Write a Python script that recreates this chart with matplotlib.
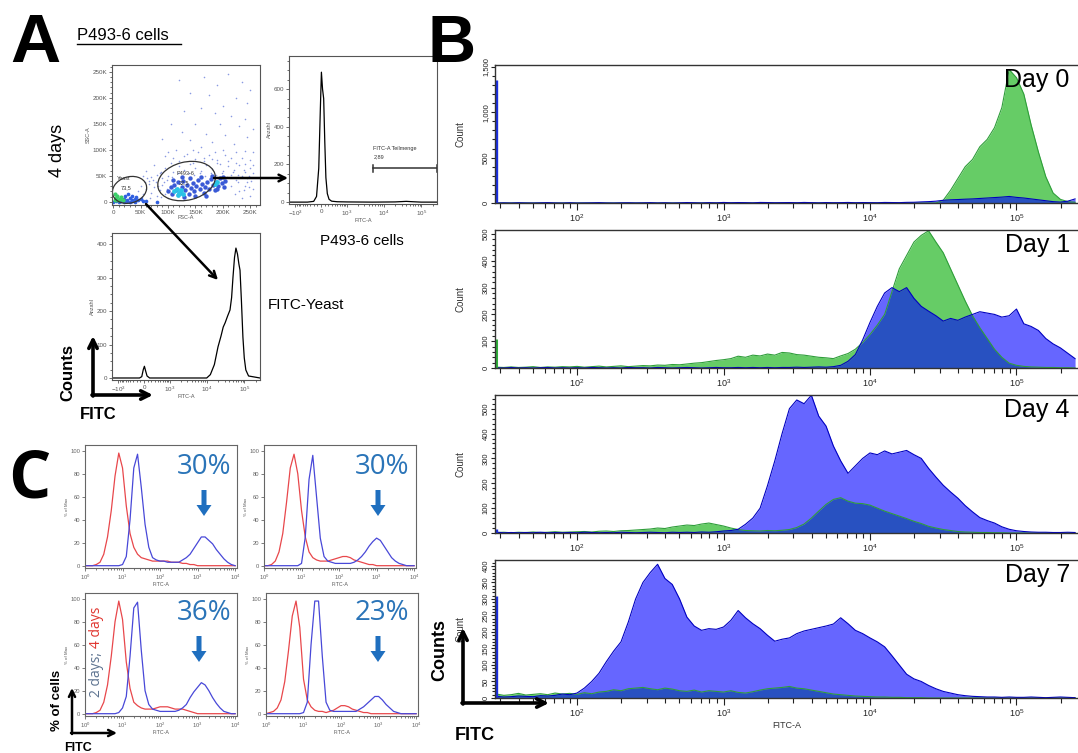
import numpy as np
import matplotlib
matplotlib.use("Agg")
import matplotlib.pyplot as plt
from matplotlib.patches import Ellipse, FancyArrow
from matplotlib.ticker import FixedLocator, MultipleLocator, NullFormatter

plt.rcParams['font.family'] = ['Liberation Sans', 'DejaVu Sans']
plt.rcParams['mathtext.fontset'] = 'custom'
plt.rcParams['mathtext.rm'] = 'Liberation Sans'
plt.rcParams['mathtext.it'] = 'Liberation Sans:italic'

# ---------------- panel A data ----------------
# scatter FSC-A / SSC-A, in K
cloud_fsc = [120, 165, 190, 210, 235, 250, 140, 175, 225, 245, 200, 160, 130, 185, 215, 240, 105, 150, 195, 230,
             255, 125, 170, 205, 245, 90, 140, 180, 220, 160, 115, 200, 240, 135, 175, 95, 215, 150, 250, 120,
             100, 110, 130, 145, 155, 165, 185, 190, 205, 225, 235, 255, 145, 165, 180, 195, 210, 225, 240, 255,
             60, 75, 85, 95, 105, 110, 120, 130, 140, 150, 160, 170, 180, 190, 200, 210, 220, 230, 240, 250,
             70, 80, 90, 100, 235, 245, 255, 65, 225, 215, 55, 62, 78, 88, 98, 108, 118, 128, 138, 148,
             158, 168, 178, 188, 198, 208, 218, 228, 238, 248, 45, 50, 55, 60, 65, 70, 75, 80, 85, 90,
             95, 100, 230, 240, 250, 245, 235, 255, 52, 58, 68, 72, 82, 88, 92, 98, 215, 222, 228, 238, 248, 252]
cloud_ssc = [235, 240, 225, 245, 230, 215, 210, 205, 200, 190, 185, 180, 175, 170, 165, 160, 150, 150, 150, 145,
             140, 135, 130, 128, 125, 120, 118, 115, 112, 105, 100, 100, 98, 92, 90, 88, 85, 82, 80, 78,
             95, 85, 88, 100, 95, 85, 95, 80, 90, 95, 85, 95, 75, 78, 82, 72, 78, 75, 72, 70,
             60, 70, 55, 65, 75, 58, 68, 62, 72, 66, 60, 70, 64, 74, 60, 68, 62, 70, 58, 66,
             48, 52, 45, 50, 50, 45, 55, 40, 42, 52, 50, 45, 38, 58, 42, 48, 55, 50, 56, 52,
             55, 50, 56, 52, 56, 48, 58, 52, 62, 50, 20, 30, 15, 25, 35, 18, 28, 12, 22, 32,
             16, 8, 20, 30, 12, 38, 8, 25, 10, 38, 8, 42, 30, 10, 38, 25, 30, 15, 38, 22, 28, 40]
dense_fsc = [100, 105, 108, 112, 115, 118, 122, 125, 128, 132, 135, 138, 142, 145, 148, 152, 155, 158, 162, 165,
             168, 172, 175, 178, 182, 185, 188, 192, 195, 198, 202, 205, 110, 125, 140, 160, 180, 200, 190, 170,
             150, 130]
dense_ssc = [20, 28, 15, 32, 22, 38, 18, 28, 40, 22, 32, 15, 26, 36, 20, 30, 42, 24, 34, 18,
             28, 38, 25, 44, 32, 22, 38, 30, 45, 36, 28, 40, 42, 48, 46, 48, 50, 48, 25, 12,
             12, 10]
hot_fsc = [112, 116, 120, 124, 118, 128, 185, 190]
hot_ssc = [20, 24, 18, 22, 14, 16, 35, 38]
yeast_fsc = [20, 25, 30, 35, 40, 45, 22, 28, 35, 42, 50, 55, 0, 5, 10, 15, 20, 25, 30, 35, 40, 60, 80]
yeast_ssc = [6, 3, 8, 4, 6, 3, 12, 15, 12, 10, 5, 2, 0, 1, 0, 1, 0, 1, 0, 1, 0, 1, 0]
yeastg_fsc = [3, 6, 9, 12, 15, 18, 8, 4]
yeastg_ssc = [4, 8, 3, 6, 10, 4, 12, 15]

# FITC histogram of P493-6 gate
p493_fitc = [-1500, -400, -200, -120, -60, -20, 10, 40, 70, 100, 130, 170, 220, 300, 500, 1000, 5000,
             20000, 40000, 60000, 100000, 262000]
p493_count = [0, 0, 4, 30, 180, 480, 690, 600, 550, 320, 130, 45, 15, 5, 2, 1, 0, 1, 4, 2, 0, 0]
gate_lo, gate_hi, gate_y = 5300, 262000, 180

# FITC histogram of yeast gate
yeast_fitc = [-1500, -300, -120, -60, -20, 10, 40, 80, 150, 400, 1000, 5000, 10000, 12500, 16000, 20000,
              24000, 27500, 31000, 36000, 41700, 46000, 50000, 55000, 60000, 66000, 72000, 77000, 84000,
              92000, 100000, 110000, 130000, 262000]
yeast_count = [0, 0, 0, 4, 25, 35, 22, 6, 0, 0, 0, 0, 0, 10, 40, 93, 125, 152, 165, 185, 203, 240, 300,
               360, 388, 370, 340, 322, 230, 122, 60, 24, 6, 0]

# ---------------- panel B data ----------------
b_logx = np.round(np.arange(1.45, 5.41, 0.05), 2)
b_days = ['Day 0', 'Day 1', 'Day 4', 'Day 7']

day0_green = [0] * 60 + [0, 30, 140, 270, 400, 480, 620, 700, 830, 1050,
                         1470, 1380, 1200, 860, 560, 290, 110, 40, 15, 8]
day0_blue = [0, 2, 0, 3, 1, 0, 2, 4, 1, 0, 3, 0, 1, 2, 4, 1, 0, 2, 3, 1,
             2, 4, 1, 3, 0, 2, 5, 3, 1, 4, 2, 6, 3, 5, 4, 2, 6, 5, 3, 4,
             5, 3, 6, 4, 2, 5, 3, 4, 6, 3, 5, 4, 3, 6, 5, 4, 7, 8, 12, 15,
             20, 30, 35, 38, 42, 45, 50, 55, 60, 65, 72, 62, 55, 45, 35, 25, 15, 10, 20, 45]
day1_green = [3, 2, 4, 2, 3, 5, 2, 4, 3, 5, 4, 6, 3, 5, 7, 4, 6, 8, 5, 7,
              9, 8, 11, 10, 13, 12, 15, 18, 20, 24, 28, 31, 35, 44, 40, 48, 45, 52, 48, 58,
              56, 50, 48, 44, 40, 38, 35, 45, 54, 70, 95, 125, 160, 200, 285, 370, 420, 470, 495, 512,
              470, 430, 370, 310, 250, 195, 150, 110, 70, 40, 18, 10, 6, 4, 3, 2, 2, 1, 1, 0]
day1_blue = [1, 0, 2, 0, 1, 0, 1, 2, 0, 1, 0, 1, 0, 2, 1, 0, 1, 0, 2, 1,
             1, 0, 2, 1, 0, 1, 2, 1, 0, 1, 2, 1, 1, 2, 1, 2, 1, 2, 1, 2,
             2, 3, 2, 3, 4, 3, 5, 10, 25, 50, 105, 170, 230, 280, 300, 285, 300, 260, 230, 212,
             195, 175, 185, 178, 190, 200, 210, 205, 200, 190, 195, 220, 165, 155, 140, 110, 90, 75, 55, 35]
day4_green = [2, 3, 1, 3, 2, 4, 2, 3, 5, 3, 4, 5, 6, 4, 7, 8, 6, 9, 10, 12,
              14, 16, 20, 18, 24, 28, 32, 30, 36, 40, 34, 28, 20, 14, 10, 9, 8, 10, 9, 11,
              14, 22, 36, 60, 88, 115, 135, 142, 128, 120, 118, 112, 100, 88, 78, 68, 58, 47, 38, 27,
              20, 14, 10, 6, 4, 3, 2, 2, 1, 1] + [0] * 10
day4_blue = [3, 1, 2, 1, 2, 1, 3, 1, 2, 1, 2, 1, 3, 2, 1, 2, 1, 3, 2, 1,
             2, 3, 2, 1, 3, 2, 3, 2, 4, 3, 5, 8, 10, 15, 35, 60, 100, 190, 290, 400,
             500, 535, 520, 554, 470, 430, 350, 290, 240, 270, 300, 322, 315, 330, 318, 325, 332, 315, 300, 260,
             225, 192, 165, 140, 110, 85, 62, 50, 40, 25, 15, 9, 6, 4, 3, 3, 2, 2, 3, 2]
day7_green = [12, 8, 10, 14, 9, 11, 13, 10, 15, 12, 14, 11, 16, 13, 18, 20, 25, 22, 28, 30,
              32, 28, 25, 30, 27, 22, 20, 24, 18, 22, 20, 18, 22, 17, 15, 19, 24, 28, 30, 32,
              35, 30, 28, 24, 20, 16, 12, 10, 8, 6, 5, 4, 3, 3, 2, 2, 1, 1, 1, 0] + [0] * 20
day7_blue = [5, 3, 4, 6, 5, 4, 7, 6, 8, 12, 10, 15, 30, 50, 75, 110, 142, 170, 230, 300,
             350, 380, 405, 362, 344, 300, 245, 218, 205, 210, 208, 215, 235, 265, 243, 225, 210, 190, 172, 178,
             182, 195, 203, 208, 213, 218, 224, 243, 225, 205, 195, 182, 170, 155, 128, 100, 72, 58, 50, 38,
             28, 20, 15, 10, 7, 5, 4, 3, 3, 2, 3, 2, 2, 3, 2, 1, 2, 3, 2, 1]
b_green = [day0_green, day1_green, day4_green, day7_green]
b_blue = [day0_blue, day1_blue, day4_blue, day7_blue]
b_edge_green = [0, 110, 8, 0]      # pile-up in the first channel
b_edge_blue = [1350, 0, 15, 310]
b_ymax = [1520, 515, 555, 418]
b_yticks = [[0, 500, 1000, 1500], [0, 100, 200, 300, 400, 500], [0, 100, 200, 300, 400, 500],
            [0, 50, 100, 150, 200, 250, 300, 350, 400]]
b_ylabels = [['0', '500', '1,000', '1,500'], None, None, None]
b_yminor = [100, 20, 20, 10]

# ---------------- panel C data ----------------
c_logx = np.round(np.arange(0, 4.01, 0.1), 1)
c_pct = ['30%', '30%', '36%', '23%']
c_red = [
    [0, 0, 0, 1, 3, 10, 25, 48, 78, 98, 85, 52, 28, 16, 10, 7, 6, 5, 4, 4, 4, 4, 4, 3, 3, 3, 2, 2, 1, 1, 0, 0, 0, 0, 0, 0, 0, 0, 0, 0, 0],
    [0, 0, 1, 4, 12, 28, 55, 85, 97, 80, 48, 25, 12, 7, 5, 4, 4, 4, 5, 6, 7, 8, 8, 7, 5, 4, 3, 2, 1, 1, 0, 0, 0, 0, 0, 0, 0, 0, 0, 0, 0],
    [0, 0, 0, 1, 3, 10, 25, 50, 80, 98, 82, 45, 22, 10, 7, 5, 4, 4, 4, 5, 6, 6, 6, 5, 4, 4, 4, 3, 2, 1, 0, 0, 0, 0, 0, 0, 0, 0, 0, 0, 0],
    [0, 1, 2, 5, 12, 28, 55, 85, 98, 75, 30, 12, 6, 3, 2, 2, 1, 2, 3, 5, 7, 7, 6, 4, 3, 2, 1, 1, 0, 0, 0, 0, 0, 0, 0, 0, 0, 0, 0, 0, 0],
]
c_blue = [
    [0, 0, 0, 0, 0, 0, 0, 0, 0, 0, 1, 8, 40, 85, 97, 68, 36, 16, 7, 5, 4, 4, 3, 3, 3, 3, 5, 7, 10, 15, 20, 25, 25, 22, 19, 14, 10, 6, 3, 1, 0],
    [0, 0, 0, 0, 0, 0, 0, 0, 0, 0, 2, 25, 75, 96, 60, 24, 8, 4, 3, 2, 2, 2, 2, 2, 3, 5, 8, 12, 17, 21, 24, 22, 17, 12, 7, 4, 2, 1, 0, 0, 0],
    [0, 0, 0, 0, 0, 0, 0, 0, 0, 1, 5, 15, 50, 92, 97, 55, 20, 8, 4, 3, 2, 2, 2, 2, 2, 3, 5, 8, 14, 19, 23, 27, 25, 20, 14, 9, 5, 2, 1, 0, 0],
    [0, 0, 0, 0, 0, 0, 0, 0, 0, 0, 1, 10, 60, 98, 98, 50, 10, 3, 2, 2, 2, 2, 2, 2, 2, 4, 6, 9, 12, 15, 15, 12, 8, 5, 2, 1, 0, 0, 0, 0, 0],
]

W, H = 1078, 753
fig = plt.figure(figsize=(W / 100, H / 100), dpi=100)

BIEX_C = 430.0
def biex(x):
    return np.arcsinh(np.asarray(x, dtype=float) / BIEX_C)

def biex_inv(y):
    return BIEX_C * np.sinh(np.asarray(y, dtype=float))

def px_axes(l, t, r, b):
    return fig.add_axes([l / W, 1 - b / H, (r - l) / W, (b - t) / H])

def small_frame(ax, col='#555555', size=4.5):
    for s in ax.spines.values():
        s.set_color(col)
        s.set_linewidth(0.8)
    ax.tick_params(which='both', direction='out', colors=col, labelsize=size, width=0.6, pad=1)
    ax.tick_params(which='major', length=2.5)
    ax.tick_params(which='minor', length=1.5)

def biex_ticks(ax):
    ax.set_xscale('function', functions=(biex, biex_inv))
    ax.set_xlim(-1500, 262144)
    ax.xaxis.set_major_locator(FixedLocator([-1000, 0, 1000, 10000, 100000]))
    ax.set_xticklabels(['$-10^3$', '0', '$10^3$', '$10^4$', '$10^5$'])
    mn = [-m * 100 for m in range(1, 10)] + [m * 100 for m in range(1, 10)]
    mn += [m * 10 ** k for k in (3, 4) for m in range(2, 10)] + [200000]
    ax.xaxis.set_minor_locator(FixedLocator(mn))
    ax.xaxis.set_minor_formatter(NullFormatter())

# ---------- A: scatter ----------
ax = px_axes(112, 65, 260, 205)
small_frame(ax)
ax.scatter(cloud_fsc, cloud_ssc, s=1.3, color='#8a9ae2', lw=0)
ax.scatter(dense_fsc, dense_ssc, s=10, color='#3a5ad6', lw=0)
ax.scatter(hot_fsc, hot_ssc, s=12, color='#29c3e6', lw=0)
ax.scatter(yeast_fsc, yeast_ssc, s=7, color='#2f5fe0', lw=0)
ax.scatter(yeastg_fsc, yeastg_ssc, s=9, color='#3ccf6a', lw=0)
ax.add_patch(Ellipse((30, 23), 64, 50, angle=20, fill=False, ec='#333333', lw=0.9))
ax.add_patch(Ellipse((134, 40), 107, 73, angle=15, fill=False, ec='#333333', lw=0.9))
ax.text(7, 44, 'Yeast', fontsize=4, color='#333333', va='center')
ax.text(14, 27, '73,5', fontsize=4, color='#333333', va='center')
ax.text(116, 55, 'P493-6', fontsize=4, color='#333333', va='center')
ax.text(119, 36, '22,5', fontsize=4, color='#333333', va='center')
ax.set_xlim(-2, 268)
ax.set_ylim(-6, 263)
ax.set_xticks([0, 50, 100, 150, 200, 250])
ax.set_xticklabels(['0', '50K', '100K', '150K', '200K', '250K'])
ax.set_yticks([0, 50, 100, 150, 200, 250])
ax.set_yticklabels(['0', '50K', '100K', '150K', '200K', '250K'])
ax.xaxis.set_minor_locator(MultipleLocator(10))
ax.yaxis.set_minor_locator(MultipleLocator(10))
ax.set_xlabel('FSC-A', fontsize=4, color='#555555', labelpad=0)
ax.set_ylabel('SSC-A', fontsize=4, color='#555555', labelpad=1)

# ---------- A: P493-6 histogram ----------
ax = px_axes(289, 56, 437, 204)
small_frame(ax)
biex_ticks(ax)
ax.plot(p493_fitc, p493_count, color='k', lw=0.9)
ax.set_ylim(-10, 776)
ax.set_yticks([0, 200, 400, 600])
ax.yaxis.set_minor_locator(MultipleLocator(50))
ax.plot([gate_lo, gate_hi], [gate_y, gate_y], color='#333333', lw=1.1)
ax.plot([gate_lo, gate_lo], [gate_y - 18, gate_y + 18], color='#333333', lw=1.1)
ax.plot([gate_hi, gate_hi], [gate_y - 18, gate_y + 18], color='#333333', lw=1.1)
ax.text(gate_lo, 287, 'FITC-A Teilmenge', fontsize=4, color='#333333', va='center')
ax.text(gate_lo, 239, '2,89', fontsize=4, color='#333333', va='center')
ax.set_xlabel('FITC-A', fontsize=4, color='#555555', labelpad=0)
ax.set_ylabel('Anzahl', fontsize=4, color='#555555', labelpad=1)

# ---------- A: yeast histogram ----------
ax = px_axes(112, 233, 260, 380)
small_frame(ax)
biex_ticks(ax)
ax.plot(yeast_fitc, yeast_count, color='k', lw=0.9)
ax.set_ylim(-6, 433)
ax.set_yticks([0, 100, 200, 300, 400])
ax.yaxis.set_minor_locator(MultipleLocator(25))
ax.set_xlabel('FITC-A', fontsize=4, color='#555555', labelpad=0)
ax.set_ylabel('Anzahl', fontsize=4, color='#555555', labelpad=1)

# ---------- B: four day histograms ----------
b_tops = [65, 230, 395, 560]
xmin = 10 ** 1.44
bx = 10 ** b_logx
for i, top in enumerate(b_tops):
    ax = px_axes(495, top, 1078, top + 138)
    ax.fill_between(bx, b_green[i], color='#66cc66', lw=0)
    ax.plot(bx, b_green[i], color='#2f9e3a', lw=0.8)
    ax.fill_between(bx, b_blue[i], color='#0000ff', alpha=0.6, lw=0)
    ax.plot(bx, b_blue[i], color='#0000c0', lw=0.8)
    if b_edge_green[i]:
        ax.vlines(10 ** 1.447, 0, b_edge_green[i], color='#2fb03a', lw=2.2)
    if b_edge_blue[i]:
        ax.vlines(10 ** 1.447, 0, b_edge_blue[i], color='#1a2ee0', lw=2.4)
    ax.set_xscale('log')
    ax.set_xlim(xmin, 10 ** 5.42)
    ax.set_ylim(0, b_ymax[i])
    ax.xaxis.set_major_locator(FixedLocator([1e2, 1e3, 1e4, 1e5]))
    ax.set_xticklabels(['$10^2$', '$10^3$', '$10^4$', '$10^5$'])
    ax.xaxis.set_minor_locator(FixedLocator([m * 10 ** k for k in range(1, 6) for m in range(2, 10)]))
    ax.xaxis.set_minor_formatter(NullFormatter())
    ax.set_yticks(b_yticks[i])
    if b_ylabels[i]:
        ax.set_yticklabels(b_ylabels[i])
    ax.yaxis.set_minor_locator(MultipleLocator(b_yminor[i]))
    for s in ['left', 'bottom', 'top']:
        ax.spines[s].set_color('#333333')
        ax.spines[s].set_linewidth(1.0)
    ax.spines['right'].set_visible(False)
    ax.tick_params(which='both', direction='out', colors='#222222', width=0.8)
    ax.tick_params(axis='x', which='major', length=5, labelsize=6.5, pad=2)
    ax.tick_params(axis='x', which='minor', length=3.5)
    ax.tick_params(axis='y', which='major', length=3, labelsize=5.5, labelrotation=90, pad=1)
    ax.tick_params(axis='y', which='minor', length=2)
    for lab in ax.get_yticklabels():
        lab.set_va('center')
    ax.set_ylabel('Count', fontsize=7, color='#333333')
    ax.yaxis.set_label_coords(-0.05, 0.5)
    ax.text(0.986, 0.89, b_days[i], transform=ax.transAxes, ha='right', va='center', fontsize=18)
    if i == 3:
        ax.set_xlabel('FITC-A', fontsize=6.5, color='#333333', labelpad=1)

# ---------- C: four small overlays ----------
c_boxes = [(85, 445, 237, 568), (264, 445, 416, 568), (85, 593, 237, 716), (266, 593, 418, 716)]
cx = 10 ** c_logx
for i, (l, t, r, b) in enumerate(c_boxes):
    ax = px_axes(l, t, r, b)
    small_frame(ax, col='#666666', size=4.2)
    ax.plot(cx, c_red[i], color='#e8474b', lw=0.9)
    ax.plot(cx, c_blue[i], color='#4848d8', lw=0.9)
    ax.set_xscale('log')
    ax.set_xlim(1, 10 ** 4.05)
    ax.set_ylim(-2, 105)
    ax.xaxis.set_major_locator(FixedLocator([1, 10, 100, 1000, 10000]))
    ax.set_xticklabels(['$10^0$', '$10^1$', '$10^2$', '$10^3$', '$10^4$'])
    ax.xaxis.set_minor_locator(FixedLocator([m * 10 ** k for k in range(0, 4) for m in range(2, 10)]))
    ax.xaxis.set_minor_formatter(NullFormatter())
    ax.set_yticks([0, 20, 40, 60, 80, 100])
    ax.set_xlabel('FITC-A', fontsize=3.8, color='#555555', labelpad=0)
    ax.set_ylabel('% of Max', fontsize=3.2, color='#555555', labelpad=1)

# ---------- overlay: letters, labels, arrows ----------
ov = fig.add_axes([0, 0, 1, 1], zorder=10)
ov.set_xlim(0, W)
ov.set_ylim(H, 0)
ov.axis('off')

ov.text(10, 62, 'A', fontsize=50, fontweight='bold', va='baseline')
ov.text(427, 62, 'B', fontsize=48, fontweight='bold', va='baseline')
ov.text(8, 497, 'C', fontsize=48, fontweight='bold', va='baseline', family=['Open Sans', 'DejaVu Sans'])

ov.text(77, 40, 'P493-6 cells', fontsize=12, va='baseline')
ov.plot([77, 181], [43.5, 43.5], color='k', lw=1)
ov.text(58, 150, '4 days', fontsize=13, rotation=90, ha='center', va='center')
ov.text(362, 241, 'P493-6 cells', fontsize=11, ha='center', va='center')
ov.text(268, 305, 'FITC-Yeast', fontsize=11, ha='left', va='center')

arrow_k = dict(arrowstyle='->', color='k', lw=1.8, mutation_scale=12, shrinkA=0, shrinkB=0)
ov.annotate('', xy=(288, 178), xytext=(214, 178), arrowprops=arrow_k)
ov.annotate('', xy=(218, 280), xytext=(146, 204), arrowprops=arrow_k)

axis_arrow = dict(arrowstyle='->', color='k', lw=2.6, mutation_scale=15, shrinkA=0, shrinkB=0)
# A counts / FITC arrows
ov.annotate('', xy=(93, 336), xytext=(93, 396), arrowprops=axis_arrow)
ov.annotate('', xy=(153, 395), xytext=(92, 395), arrowprops=axis_arrow)
ov.text(68, 372, 'Counts', fontsize=12, fontweight='bold', rotation=90, ha='center', va='center')
ov.text(80, 414, 'FITC', fontsize=12, fontweight='bold', ha='left', va='center')
# B counts / FITC arrows
ov.annotate('', xy=(463, 628), xytext=(463, 704), arrowprops=axis_arrow)
ov.annotate('', xy=(549, 703), xytext=(462, 703), arrowprops=axis_arrow)
ov.text(440, 650, 'Counts', fontsize=13, fontweight='bold', rotation=90, ha='center', va='center')
ov.text(455, 735, 'FITC', fontsize=13, fontweight='bold', ha='left', va='center')
# C arrows
small_arrow = dict(arrowstyle='->', color='k', lw=1.8, mutation_scale=11, shrinkA=0, shrinkB=0)
ov.annotate('', xy=(72, 688), xytext=(72, 734), arrowprops=small_arrow)
ov.annotate('', xy=(117, 733), xytext=(71, 733), arrowprops=small_arrow)
ov.text(57, 700, '% of cells', fontsize=9.5, fontweight='bold', rotation=90, ha='center', va='center')
ov.text(64, 748, 'FITC', fontsize=9, fontweight='bold', ha='left', va='center')

# C percentages with arrows
pct_pos = [(204, 467), (382, 467), (204, 613), (382, 613)]
arr_pos = [(204, 490, 516), (378, 490, 516), (199, 636, 662), (378, 636, 662)]
for (tx, ty), (axx, y0, y1), lab in zip(pct_pos, arr_pos, c_pct):
    ov.text(tx, ty, lab, fontsize=20, color='#2a74b8', ha='center', va='center',
            family=['Open Sans', 'DejaVu Sans'])
    ov.add_patch(FancyArrow(axx, y0, 0, y1 - y0, width=5, head_width=15, head_length=11,
                            length_includes_head=True, color='#1f6fbf', lw=0))

# two-coloured rotated label: place the second part right after the first one
t1 = ov.text(97, 697, '2 days; ', fontsize=10, rotation=90, ha='left', va='center', color='#5d7390',
             rotation_mode='anchor', family=['Open Sans', 'DejaVu Sans'])
fig.canvas.draw()
bb = t1.get_window_extent()
top_px = H - bb.y1
ov.text(97, top_px, '4 days', fontsize=10, rotation=90, ha='left', va='center', color='#e0342e',
        rotation_mode='anchor', family=['Open Sans', 'DejaVu Sans'])

fig.savefig('out.png', dpi=100)
